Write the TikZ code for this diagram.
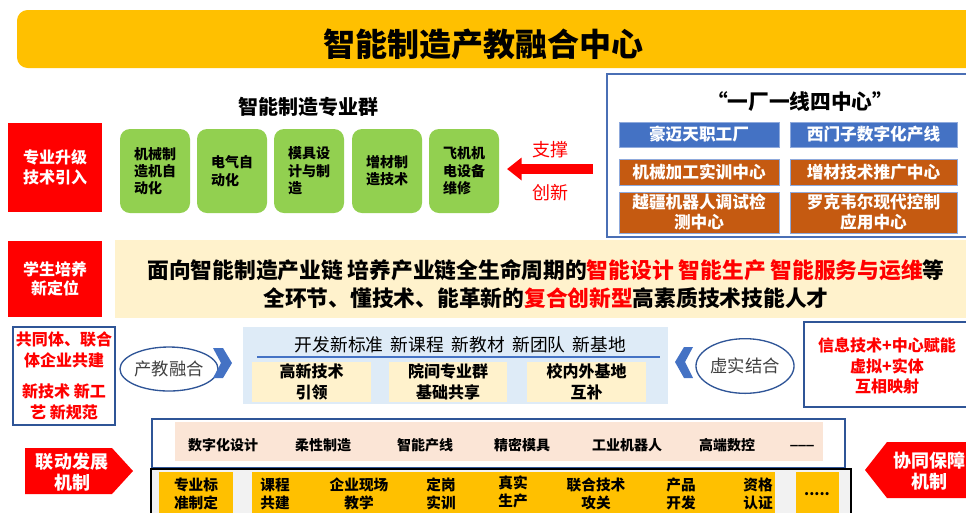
\documentclass[tikz,border=0pt]{standalone}
\usepackage{fontspec}
\setmainfont{Noto Sans CJK SC}
\usetikzlibrary{shapes.geometric,fit,arrows.meta}
\definecolor{gold}{HTML}{FFC000}
\definecolor{rred}{HTML}{FF0000}
\definecolor{lgreen}{HTML}{92D050}
\definecolor{bbox}{HTML}{4472C4}
\definecolor{obox}{HTML}{C55A11}
\definecolor{cream}{HTML}{FFF2CC}
\definecolor{lblue}{HTML}{DEEBF7}
\definecolor{peach}{HTML}{FBE5D6}
\definecolor{lgray}{HTML}{F2F2F2}
\definecolor{frameblue}{HTML}{2F5597}
\definecolor{framelight}{HTML}{4A6FB5}
\definecolor{darktext}{HTML}{404040}
\newcommand\fs[2]{\fontsize{#1}{#2}\selectfont}
\newcommand\wgap{\hspace{0.42em}}
\begin{document}
\begin{tikzpicture}[x=0.75pt,y=-0.75pt,
  every node/.style={inner sep=0pt,outer sep=0pt},
  redlabel/.style={fill=rred,text=white,align=center,font=\bfseries\fs{12}{14.5},minimum width=70.5pt},
  greenbox/.style={fill=lgreen,rounded corners=7.5pt},
  greentext/.style={align=left,font=\bfseries\fs{10.5}{13}},
  bluebox/.style={fill=bbox,draw=bbox!60,line width=0.6pt,text=white,align=center,font=\bfseries\fs{12.5}{15}},
  orangebox/.style={bluebox,fill=obox},
  widebox/.style={minimum width=120pt},
  widerbox/.style={minimum width=125.25pt},
  frameline/.style={draw=frameblue,line width=0.9pt},
  creamcell/.style={fill=cream,align=center,font=\bfseries\fs{12}{15.75},minimum height=30pt},
  oval/.style={ellipse,draw=frameblue,line width=1pt,text=darktext,font=\fs{13}{15}},
  chev/.style={fill=bbox},
  peachtext/.style={font=\bfseries\fs{10.5}{13}},
  rowtext/.style={align=center,font=\bfseries\fs{11}{13.5}},
  sidearrow/.style={fill=rred},
  arrowtext/.style={text=white,align=center,font=\bfseries\fs{13.5}{16}}
]
\useasboundingbox (0,0) rectangle (966,512);
\clip (0,0) rectangle (966,512);

% title
\node[fill=gold,rounded corners=8pt,fit={(17,10)(990,68)}] (titlebar) {};
\node[font=\bfseries\fs{24}{28}] (title) at (483,44) {智能制造产教融合中心};

% section 1
\node[redlabel,minimum height=66.75pt] (r1) at (55,167.5) {专业升级\\技术引入};
\node[font=\bfseries\fs{15}{18}] (head1) at (308,107) {智能制造专业群};
\node[greenbox,fit={(120,129)(190,213)}] (g1) {};
\node[greenbox,fit={(197,129)(267,213)}] (g2) {};
\node[greenbox,fit={(274,129)(344,213)}] (g3) {};
\node[greenbox,fit={(352,129)(422,213)}] (g4) {};
\node[greenbox,fit={(429,129)(499,213)}] (g5) {};
\node[greentext] (g1t) at (g1.center) {机械制\\造机自\\动化};
\node[greentext] (g2t) at (g2.center) {电气自\\动化};
\node[greentext] (g3t) at (g3.center) {模具设\\计与制\\造};
\node[greentext] (g4t) at (g4.center) {增材制\\造技术};
\node[greentext] (g5t) at (g5.center) {飞机机\\电设备\\维修};
\coordinate (arrS) at (593,169);
\coordinate (arrE) at (507,169);
\draw[rred,line width=7.5pt,-{Triangle[length=11pt,width=16.5pt]}] (arrS) -- (arrE);
\node[text=rred,font=\fs{13.5}{16}] (zc) at (550,150) {支撑};
\node[text=rred,font=\fs{13.5}{16}] (cx) at (550,193) {创新};

\node[draw=framelight,line width=0.9pt,fit={(607,74)(975,237)}] (frame1) {};
\node[font=\bfseries\fs{15.5}{18}] (head2) at (800,102) {“一厂一线四中心”};
\node[bluebox,widebox,minimum height=18.75pt] (b1) at (699,134.5) {豪迈天职工厂};
\node[bluebox,widerbox,minimum height=18.75pt] (b2) at (873.5,134.5) {西门子数字化产线};
\node[orangebox,widebox,minimum height=19.5pt] (o1) at (699,172) {机械加工实训中心};
\node[orangebox,widerbox,minimum height=19.5pt] (o2) at (873.5,172) {增材技术推广中心};
\node[orangebox,widebox,minimum height=30.75pt] (o3) at (699,212.5) {越疆机器人调试检\\测中心};
\node[orangebox,widerbox,minimum height=30.75pt] (o4) at (873.5,212.5) {罗克韦尔现代控制\\应用中心};

% section 2
\node[redlabel,minimum height=57pt] (r2) at (55,279) {学生培养\\新定位};
\node[fill=cream,fit={(115,240)(975,318)}] (creambg) {};
\node[align=center,font=\bfseries\fs{16.3}{21}] (goal) at (546,284) {面向智能制造产业链 培养产业链全生命周期的\textcolor{rred}{智能设计 智能生产 智能服务与运维}等\\全环节、懂技术、能革新的\textcolor{rred}{复合创新型}高素质技术技能人才};

% section 3
\node[frameline,fit={(13,327)(115,425)}] (lbox) {};
\node[text=rred,align=center,font=\bfseries\fs{12}{15.5}] (lboxt) at (lbox.center) {共同体、联合\\体企业共建\\[8pt]新技术 新工\\艺 新规范};
\node[oval,minimum width=64.5pt,minimum height=33pt] (ell1) at (169,369) {产教融合};
\fill[chev] (213,348) -- (223,348) -- (232,363) -- (223,378) -- (213,378) -- (221,363) -- cycle;
\node[fill=lblue,fit={(243,327)(668,404)}] (panel) {};
\node[font=\fs{13.3}{15}] (ptext) at (460.5,345) {开发新标准\wgap 新课程\wgap 新教材\wgap 新团队\wgap 新基地};
\coordinate (plA) at (257,357);
\coordinate (plB) at (660,357);
\draw[bbox,line width=0.9pt] (plA) -- (plB);
\node[creamcell,minimum width=89.25pt] (c1) at (311.5,382) {高新技术\\引领};
\node[creamcell,minimum width=88.5pt] (c2) at (448,382) {院间专业群\\基础共享};
\node[creamcell,minimum width=89.25pt] (c3) at (586.5,382) {校内外基地\\互补};
\fill[chev] (693,347) -- (684,347) -- (675,362) -- (684,378) -- (693,378) -- (685,362) -- cycle;
\node[oval,minimum width=63.75pt,minimum height=41pt] (ell2) at (745,366) {虚实结合};
\node[frameline,fit={(804,322)(975,407)}] (rbox) {};
\node[text=rred,align=center,font=\bfseries\fs{12}{15.4}] (rboxt) at (887,366) {信息技术+中心赋能\\虚拟+实体\\互相映射};

% section 4
\fill[sidearrow] (25,448) -- (112,448) -- (133,471) -- (112,494) -- (25,494) -- cycle;
\node[arrowtext] (ld) at (72,472) {联动发展\\机制};
\node[frameline,fit={(152,419)(845,468)}] (frame2) {};
\node[fill=peach,fit={(175,422)(823,461)}] (peachbg) {};
\node[peachtext] (p1) at (223,445) {数字化设计};
\node[peachtext] (p2) at (323,445) {柔性制造};
\node[peachtext] (p3) at (425,445) {智能产线};
\node[peachtext] (p4) at (522,445) {精密模具};
\node[peachtext] (p5) at (627,445) {工业机器人};
\node[peachtext] (p6) at (727,445) {高端数控};
\node[peachtext] (p7) at (802,446) {\_\_\_};
\fill[lgray] (152,469) rectangle (851,520);
\draw[black,line width=1pt] (151,520) -- (151,469) -- (851,469) -- (851,520);
\node[fill=gold,fit={(159,472)(233,520)}] (y1) {};
\node[rowtext] (y1t) at (196,494) {专业标\\准制定};
\node[fill=gold,fit={(252,472)(775,520)}] (ybig) {};
\node[rowtext] (t1) at (275,494) {课程\\共建};
\node[rowtext] (t2) at (359,494) {企业现场\\教学};
\node[rowtext] (t3) at (441,494) {定岗\\实训};
\node[rowtext] (t4) at (513,492) {真实\\生产};
\node[rowtext] (t5) at (596,494) {联合技术\\攻关};
\node[rowtext] (t6) at (681,494) {产品\\开发};
\node[rowtext] (t7) at (758,494) {资格\\认证};
\node[fill=gold,fit={(796,472)(839,520)}] (ydots) {};
\node[rowtext] (dots) at (817,494) {.....};
\fill[sidearrow] (865,470) -- (887,442) -- (975,442) -- (975,498) -- (887,498) -- cycle;
\node[arrowtext] (xt) at (929,471) {协同保障\\机制};
\end{tikzpicture}
\end{document}
